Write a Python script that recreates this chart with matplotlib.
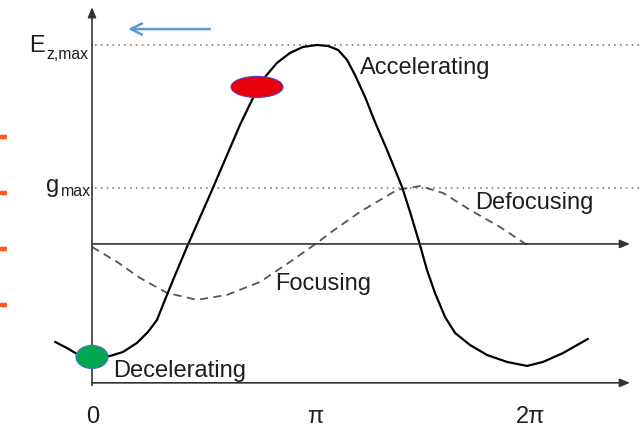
#------------------------------------------------------------------------------
## IMPORT MODULES ##
#------------------------------------------------------------------------------

import matplotlib
matplotlib.use("Agg")
import matplotlib.pyplot as plt
from matplotlib.patches import Ellipse

plt.rcParams['font.family'] = ['Liberation Sans', 'DejaVu Sans']

#------------------------------------------------------------------------------
## DATA (phase in degrees, field normalised to E_z,max) ##
#------------------------------------------------------------------------------

# Accelerating field E_z versus RF phase
phase_E = [-30.6, -20.7, -12.4, 0.0, 14.9, 25.6, 37.2, 46.3, 53.7, 60.3, 67.0,
           78.5, 99.2, 122.3, 133.1, 143.0, 152.9, 163.7, 174.4, 186.0, 195.1,
           203.4, 210.8, 217.4, 225.7, 233.9, 243.9, 256.3, 262.9, 271.1, 276.9,
           283.5, 291.8, 300.1, 312.5, 326.5, 343.1, 359.6, 372.8, 389.4, 410.0]
field_E = [-0.492, -0.523, -0.553, -0.568, -0.563, -0.543, -0.497, -0.442, -0.382,
           -0.281, -0.181, -0.015, 0.271, 0.598, 0.734, 0.839, 0.910, 0.960, 0.990,
           1.000, 0.995, 0.975, 0.925, 0.849, 0.739, 0.613, 0.472, 0.286, 0.161,
           -0.005, -0.131, -0.246, -0.367, -0.447, -0.508, -0.558, -0.593, -0.613,
           -0.593, -0.548, -0.477]

# Transverse focusing gradient g versus RF phase
phase_g = [0.0, 20.7, 39.7, 62.0, 86.8, 111.6, 138.9, 163.7, 186.0, 196.7, 221.5,
           252.1, 271.1, 290.2, 312.5, 337.3, 359.6]
grad_g = [-0.015, -0.090, -0.171, -0.246, -0.281, -0.256, -0.191, -0.090, 0.005,
          0.055, 0.161, 0.271, 0.291, 0.256, 0.171, 0.085, -0.005]

# Reference levels
E_max = 1.0
g_max = 0.281
axis_low = -0.698

# Bunch positions (phase, field)
bunch_acc = (136.4, 0.789)
bunch_dec = (0.0, -0.568)

# Tick labels on the phase axis
tick_pos = [0.8, 184.3, 362.9]
tick_lab = ['0', 'π', '2π']

# Orange markers on the left border
orange_y = [0.538, 0.256, -0.025, -0.307]

#------------------------------------------------------------------------------
## FIGURE ##
#------------------------------------------------------------------------------

fig = plt.figure(figsize=(6.41, 4.30), dpi=100)
ax = fig.add_axes([0, 0, 1, 1])
ax.set_xlim(-76.05, 453.8)
ax.set_ylim(-0.935, 1.226)
ax.axis('off')

txt = '#1e1e1e'
ax_col = '#333333'

# Dotted reference levels
ax.plot([2.5, 453.8], [E_max, E_max], color='#808080', lw=1.2, linestyle=(0, (1, 2.5)))
ax.plot([2.5, 453.8], [g_max, g_max], color='#808080', lw=1.2, linestyle=(0, (1, 2.5)))

# Axes with arrows
arrow = dict(arrowstyle='-|>,head_length=0.6,head_width=0.25', color=ax_col, lw=1.2,
             shrinkA=0, shrinkB=0)
ax.annotate('', xy=(0, 1.19), xytext=(0, -0.71), arrowprops=arrow)
ax.annotate('', xy=(444.7, axis_low), xytext=(0, axis_low), arrowprops=arrow)
ax.annotate('', xy=(444.7, 0), xytext=(0, 0), arrowprops=arrow)

# Curves
ax.plot(phase_g, grad_g, color='#555555', lw=1.3, dashes=[4.5, 3])
ax.plot(phase_E, field_E, color='black', lw=1.6, solid_capstyle='round',
        solid_joinstyle='round')

# Bunches
ax.add_patch(Ellipse(bunch_acc, 43.0, 0.106, facecolor='#e8000b', edgecolor='#5a3fc0', lw=0.8, zorder=5))
ax.add_patch(Ellipse(bunch_dec, 26.5, 0.116, facecolor='#00a650', edgecolor='#4472c4', lw=0.8, zorder=5))

# Blue arrow
ax.annotate('', xy=(29.8, 1.080), xytext=(97.5, 1.080),
            arrowprops=dict(arrowstyle='->,head_length=0.8,head_width=0.4',
                            color='#5b9bd5', lw=1.8, shrinkA=0, shrinkB=0))

# Orange dashes at the left border
for y in orange_y:
    ax.plot([-76.05, -70.3], [y, y], color='#ff5a1a', lw=3.2, solid_capstyle='butt')

# Labels
fs = 17
ax.text(221.5, 0.854, 'Accelerating', fontsize=fs, color=txt, va='baseline')
ax.text(316.6, 0.176, 'Defocusing', fontsize=fs, color=txt, va='baseline')
ax.text(151.3, -0.231, 'Focusing', fontsize=fs, color=txt, va='baseline')
ax.text(17.4, -0.668, 'Decelerating', fontsize=fs, color=txt, va='baseline')

ax.text(-38.9, 0.965, 'E', fontsize=fs, color=txt, va='baseline', ha='right')
ax.text(-3.3, 0.930, 'z,max', fontsize=11.3, color=txt, va='baseline', ha='right')
ax.text(-27.0, 0.261, 'g', fontsize=fs, color=txt, va='baseline', ha='right')
ax.text(-0.8, 0.241, 'max', fontsize=11.5, color=txt, va='baseline', ha='right')

for p, lab in zip(tick_pos, tick_lab):
    ax.text(p, -0.899, lab, fontsize=fs, color=txt, va='baseline', ha='center')

plt.savefig("out.png", dpi=100)
